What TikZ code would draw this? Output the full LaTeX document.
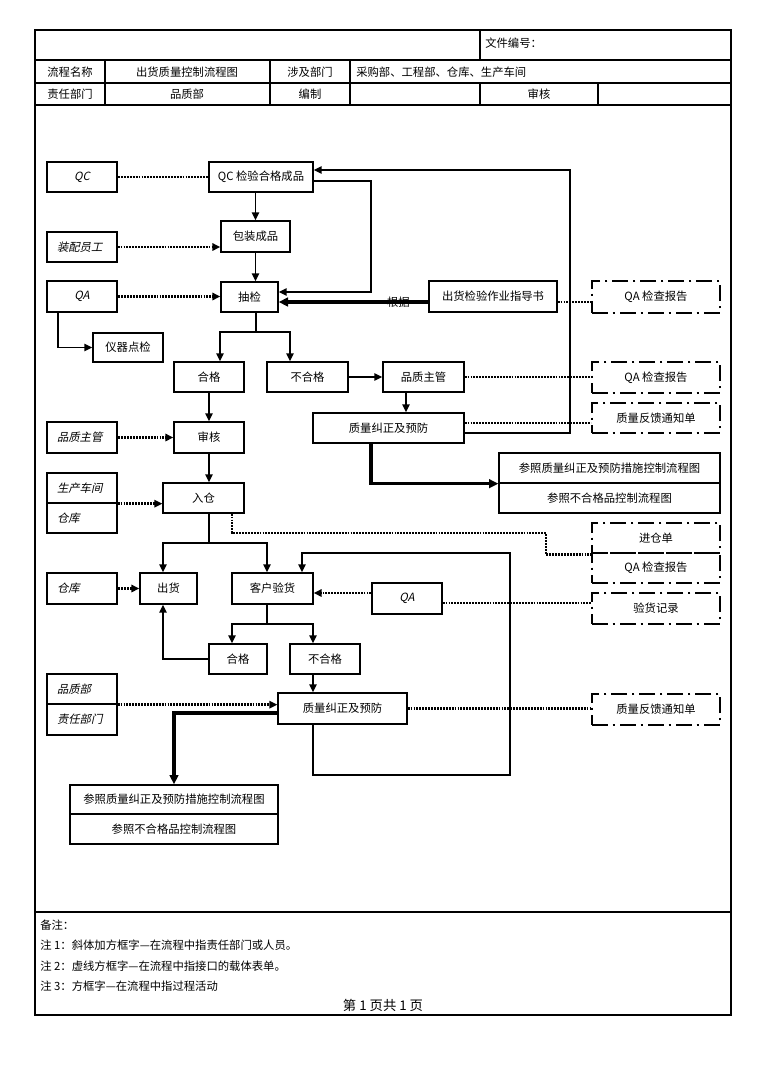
\documentclass[tikz,border=0pt]{standalone}
\usepackage{fontspec}
\setmainfont{Noto Sans CJK SC}
\newfontfamily\itfont[FakeSlant=0.22]{Noto Sans CJK SC}
\usetikzlibrary{arrows.meta,calc}
\begin{document}
\begin{tikzpicture}[x=0.75pt,y=-0.75pt,
  every node/.style={font=\fontsize{8.5pt}{10pt}\selectfont},
  bx/.style args={#1/#2/#3/#4}{minimum width={(#3-#1)*0.75pt}, minimum height={(#4-#2)*0.75pt}, at={({(#1+#3)/2},{(#2+#4)/2})}},
  pbox/.style={draw, line width=1pt, inner sep=0pt},
  ibox/.style={draw, line width=1pt, inner sep=0pt, font=\fontsize{8.5pt}{10pt}\selectfont\itfont, text width=37.5pt, align=left},
  icbox/.style={ibox, align=center},
  thk/.style={line width=2.2pt},
  dbox/.style={draw, line width=1.8pt, dash pattern=on 12pt off 3.5pt on 2pt off 3.5pt, inner sep=0pt},
  conn/.style={line width=1.1pt},
  arr/.style={conn, -{Triangle[length=6pt,width=5.5pt]}},
  tarr/.style={line width=2.4pt, -{Triangle[length=7pt,width=6.5pt]}},
  dotln/.style={line width=2.2pt, dash pattern=on 1.4pt off 0.8pt},
  darr/.style={dotln, -{Triangle[length=6pt,width=5.5pt]}},
  tblline/.style={line width=0.9pt},
  txt/.style={inner sep=0pt},
]
\fill[white] (0,0) rectangle (768,1086);
\useasboundingbox (0,0) rectangle (768,1086);

% frame and table
\draw[line width=1.2pt] (35,30) rectangle (731,1015);
\draw[tblline] (35,60) -- (731,60) (35,83) -- (731,83) (35,105) -- (731,105) (35,912) -- (731,912);
\draw[tblline] (480,30) -- (480,60);
\draw[tblline] (105,60) -- (105,105) (270,60) -- (270,105) (350,60) -- (350,105);
\draw[tblline] (480,83) -- (480,105) (598,83) -- (598,105);

\node[txt, anchor=west] (hno) at (485,43) {文件编号：};
\node[txt] (hname) at (70,72) {流程名称};
\node[txt] (hnamev) at (187,72) {出货质量控制流程图};
\node[txt] (hdep) at (310,72) {涉及部门};
\node[txt, anchor=west] (hdepv) at (356,72) {采购部、工程部、仓库、生产车间};
\node[txt] (hresp) at (70,94) {责任部门};
\node[txt] (hrespv) at (187,94) {品质部};
\node[txt] (hedit) at (310,94) {编制};
\node[txt] (haudit) at (539,94) {审核};

% notes
\node[txt, anchor=west] (n0) at (40,925) {备注：};
\node[txt, anchor=west] (n1) at (40,945) {注 1：斜体加方框字—在流程中指责任部门或人员。};
\node[txt, anchor=west] (n2) at (40,966) {注 2：虚线方框字—在流程中指接口的载体表单。};
\node[txt, anchor=west] (n3) at (40,986) {注 3：方框字—在流程中指过程活动};
\node[txt, font=\fontsize{10pt}{12pt}\selectfont] (pg) at (383,1005) {第 1 页共 1 页};

% left role boxes
\node[icbox, line width=1.6pt, bx=47/162/117/192] (qc) {QC};
\node[ibox, bx=47/232/117/262] (asm) {装配员工};
\node[icbox, thk, bx=47/281/117/312] (qa) {QA};
\node[ibox, thk, bx=47/422/117/453] (sup2) {品质主管};
\node[ibox, bx=47/473/117/503] (prod) {生产车间};
\node[ibox, bx=47/503/117/533] (wh1) {仓库};
\node[ibox, thk, bx=47/573/117/604] (wh2) {仓库};
\node[icbox, bx=372/583/442/614] (qa2) {QA};
\node[ibox, bx=47/674/117/704] (qdept) {品质部};
\node[ibox, bx=47/704/117/735] (rdept) {责任部门};

% process boxes
\node[pbox, bx=209/162/313/192] (qcchk) {QC 检验合格成品};
\node[pbox, bx=221/221/290/252] (pack) {包装成品};
\node[pbox, bx=221/282/278/312] (sample) {抽检};
\node[pbox, bx=93/333/163/362] (inst) {仪器点检};
\node[pbox, bx=429/281/557/312] (guide) {出货检验作业指导书};
\node[pbox, bx=174/362/244/392] (pass1) {合格};
\node[pbox, bx=267/362/348/392] (fail1) {不合格};
\node[pbox, bx=383/362/464/392] (qcsup) {品质主管};
\node[pbox, bx=313/413/464/443] (corr1) {质量纠正及预防};
\node[pbox, bx=174/422/244/453] (audit) {审核};
\node[pbox, bx=499/453/720/483] (ref1a) {参照质量纠正及预防措施控制流程图};
\node[pbox, bx=499/483/720/513] (ref1b) {参照不合格品控制流程图};
\node[pbox, bx=163/483/244/513] (store) {入仓};
\node[pbox, bx=140/573/197/604] (ship) {出货};
\node[pbox, bx=232/573/313/604] (insp) {客户验货};
\node[pbox, bx=209/644/267/674] (pass2) {合格};
\node[pbox, bx=290/644/360/674] (fail2) {不合格};
\node[pbox, bx=278/693/407/724] (corr2) {质量纠正及预防};
\node[pbox, bx=70/785/278/814] (ref2a) {参照质量纠正及预防措施控制流程图};
\node[pbox, bx=70/814/278/844] (ref2b) {参照不合格品控制流程图};

% form boxes (dash-dot)
\node[dbox, bx=592/281/720/313] (rep1) {QA 检查报告};
\node[dbox, bx=592/362/720/393] (rep2) {QA 检查报告};
\node[dbox, bx=592/403/720/433] (rep3) {质量反馈通知单};
\node[dbox, bx=592/523/720/553] (rep4a) {进仓单};
\node[dbox, bx=592/553/720/583] (rep4b) {QA 检查报告};
\node[dbox, bx=592/593/720/624] (rep5) {验货记录};
\node[dbox, bx=592/694/720/725] (rep6) {质量反馈通知单};

% helper coordinates
\coordinate (x58) at (58,0);
\coordinate (x163) at (163,0);
\coordinate (x174) at (174,0);
\coordinate (x209) at (209,0);
\coordinate (x220) at (220,0);
\coordinate (x232) at (232,0);
\coordinate (x256) at (256,0);
\coordinate (x267) at (267,0);
\coordinate (x290) at (290,0);
\coordinate (x302) at (302,0);
\coordinate (x313) at (313,0);
\coordinate (x371) at (371,0);
\coordinate (x406) at (406,0);
\coordinate (yH) at (0,302);
\coordinate (yJ) at (0,332);
\coordinate (yO) at (0,423);
\coordinate (yP) at (0,433);
\coordinate (yU) at (0,543);
\coordinate (yX) at (0,593);
\coordinate (yY) at (0,603);
\coordinate (yZ) at (0,624);
\coordinate (yAE) at (0,713);
\coordinate (cG) at (371,292);
\coordinate (cP) at (570,170);
\coordinate (cV) at (546,533);
\coordinate (cAF1) at (510,775);
\coordinate (cAF2) at (302,553);

% connectors
\draw[dotln] (qc.east) -- (qc.east -| qcchk.west);
\draw[darr] (asm.east) -- (asm.east -| pack.west);
\draw[darr] (qa.east) -- (qa.east -| sample.west);
\draw[arr] (qa.south -| x58) |- (inst.west);
\draw[arr] (qcchk.south -| pack.north) -- (pack.north);
\draw[arr] (pack.south) -- (pack.south |- sample.north);
\draw[arr] ($(qcchk.east)+(0,4)$) -| (cG) -- (cG -| sample.east);
\draw[tarr] (yH -| guide.west) -- node[pos=0.2, txt] (basis) {根据} (yH -| sample.east);
\draw[dotln] (yH -| guide.east) -- (yH -| rep1.west);
\draw[conn] (x256 |- sample.south) -- (x256 |- yJ);
\draw[arr] (x256 |- yJ) -| (x220 |- pass1.north);
\draw[arr] (x256 |- yJ) -| (x290 |- fail1.north);
\draw[arr] (pass1.south) -- (audit.north);
\draw[arr] (fail1.east) -- (qcsup.west);
\draw[arr] (x406 |- qcsup.south) -- (x406 |- corr1.north);
\draw[dotln] (qcsup.east) -- (qcsup.east -| rep2.west);
\draw[dotln] (yO -| corr1.east) -- (yO -| rep3.west);
\draw[arr] (yP -| corr1.east) -| (cP) -- (cP -| qcchk.east);
\draw[tarr] (x371 |- corr1.south) |- (ref1a.south west);
\draw[arr] (audit.south) -- (audit.south |- store.north);
\draw[darr] (sup2.east) -- (sup2.east -| audit.west);
\draw[darr] (prod.south east) -- (prod.south east -| store.west);
\draw[conn] (x209 |- store.south) -- (x209 |- yU);
\draw[arr] (x209 |- yU) -| (x163 |- ship.north);
\draw[arr] (x209 |- yU) -| (x267 |- insp.north);
\draw[dotln] (x232 |- store.south) |- (cV) |- (rep4a.south west);
\draw[darr] (wh2.east) -- (wh2.east -| ship.west);
\draw[darr] (yX -| qa2.west) -- (yX -| insp.east);
\draw[dotln] (yY -| qa2.east) -- (yY -| rep5.west);
\draw[conn] (x267 |- insp.south) -- (x267 |- yZ);
\draw[arr] (x267 |- yZ) -| (x232 |- pass2.north);
\draw[arr] (x267 |- yZ) -| (x313 |- fail2.north);
\draw[arr] (pass2.west) -| (x163 |- ship.south);
\draw[arr] (x313 |- fail2.south) -- (x313 |- corr2.north);
\draw[darr] (qdept.south east) -- (qdept.south east -| corr2.west);
\draw[dotln] (corr2.east) -- (corr2.east -| rep6.west);
\draw[tarr] (yAE -| corr2.west) -| (x174 |- ref2a.north);
\draw[arr] (x313 |- corr2.south) |- (cAF1) |- (cAF2) -- (x302 |- insp.north);
\end{tikzpicture}
\end{document}
